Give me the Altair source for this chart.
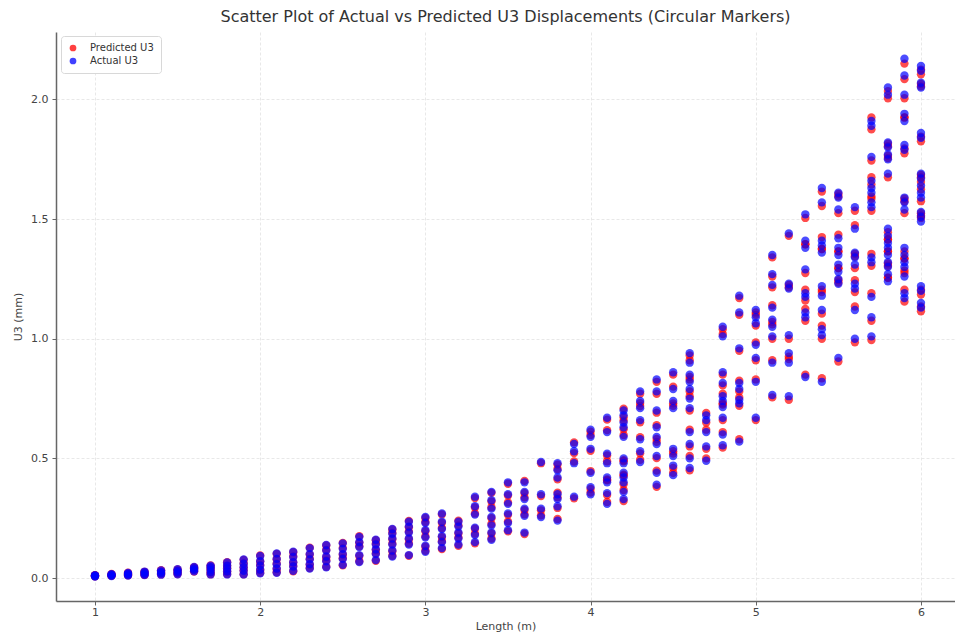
import altair as alt
import pandas as pd

TITLE = "Scatter Plot of Actual vs Predicted U3 Displacements (Circular Markers)"
X_LABEL = "Length (m)"
Y_LABEL = "U3 (mm)"
SERIES = ["Predicted U3", "Actual U3"]
COLORS = ["#ff0000", "#0000ff"]
X_TICKS = [1, 2, 3, 4, 5, 6]
Y_TICKS = [0.0, 0.5, 1.0, 1.5, 2.0]

LENGTHS = [1.0, 1.1, 1.2, 1.3, 1.4, 1.5, 1.6, 1.7, 1.8, 1.9,
           2.0, 2.1, 2.2, 2.3, 2.4, 2.5, 2.6, 2.7, 2.8, 2.9,
           3.0, 3.1, 3.2, 3.3, 3.4, 3.5, 3.6, 3.7, 3.8, 3.9,
           4.0, 4.1, 4.2, 4.3, 4.4, 4.5, 4.6, 4.7, 4.8, 4.9,
           5.0, 5.1, 5.2, 5.3, 5.4, 5.5, 5.6, 5.7, 5.8, 5.9, 6.0]

ACTUAL_U3 = [
    [0.006, 0.008, 0.010, 0.012],
    [0.008, 0.011, 0.014, 0.016],
    [0.010, 0.014, 0.018, 0.021],
    [0.012, 0.017, 0.022, 0.027],
    [0.014, 0.020, 0.026, 0.032],
    [0.016, 0.023, 0.030, 0.037],
    [0.028, 0.034, 0.040, 0.046],
    [0.015, 0.025, 0.035, 0.045, 0.052],
    [0.015, 0.028, 0.040, 0.052, 0.065],
    [0.015, 0.030, 0.045, 0.060, 0.078],
    [0.020, 0.035, 0.052, 0.070, 0.092],
    [0.022, 0.040, 0.058, 0.080, 0.103],
    [0.030, 0.048, 0.066, 0.088, 0.110],
    [0.040, 0.058, 0.078, 0.100, 0.125],
    [0.045, 0.070, 0.090, 0.115, 0.138],
    [0.055, 0.080, 0.100, 0.122, 0.145],
    [0.067, 0.095, 0.130, 0.150, 0.172],
    [0.075, 0.100, 0.120, 0.140, 0.160],
    [0.090, 0.115, 0.140, 0.165, 0.185, 0.205],
    [0.096, 0.140, 0.165, 0.190, 0.215, 0.235],
    [0.110, 0.135, 0.170, 0.200, 0.230, 0.255],
    [0.125, 0.150, 0.175, 0.205, 0.235, 0.270],
    [0.140, 0.165, 0.190, 0.215, 0.235],
    [0.150, 0.180, 0.210, 0.265, 0.300, 0.340],
    [0.160, 0.190, 0.220, 0.255, 0.290, 0.325, 0.360],
    [0.200, 0.230, 0.270, 0.310, 0.350, 0.400],
    [0.190, 0.260, 0.290, 0.330, 0.360, 0.400],
    [0.255, 0.290, 0.350, 0.485],
    [0.240, 0.300, 0.330, 0.350, 0.420, 0.450, 0.480],
    [0.340, 0.480, 0.530, 0.560],
    [0.350, 0.380, 0.440, 0.540, 0.590, 0.620],
    [0.310, 0.355, 0.400, 0.420, 0.480, 0.520, 0.610, 0.670],
    [0.330, 0.360, 0.400, 0.420, 0.440, 0.480, 0.500, 0.590, 0.630, 0.650, 0.680, 0.700],
    [0.485, 0.530, 0.580, 0.660, 0.710, 0.740, 0.780],
    [0.390, 0.440, 0.510, 0.560, 0.590, 0.630, 0.700, 0.780, 0.830],
    [0.430, 0.470, 0.510, 0.540, 0.710, 0.740, 0.790, 0.860],
    [0.460, 0.500, 0.560, 0.610, 0.710, 0.750, 0.790, 0.820, 0.850, 0.900, 0.940],
    [0.490, 0.550, 0.610, 0.660, 0.680],
    [0.555, 0.600, 0.670, 0.715, 0.740, 0.760, 0.815, 0.860, 1.010, 1.050],
    [0.570, 0.730, 0.745, 0.790, 0.815, 0.960, 1.110, 1.180],
    [0.670, 0.820, 0.920, 0.975, 1.065, 1.090, 1.120],
    [0.765, 0.900, 1.010, 1.050, 1.080, 1.130, 1.225, 1.270, 1.350],
    [0.760, 0.900, 0.940, 1.015, 1.210, 1.230, 1.440],
    [0.840, 1.090, 1.110, 1.175, 1.190, 1.290, 1.380, 1.410, 1.520],
    [0.820, 1.015, 1.040, 1.120, 1.180, 1.220, 1.360, 1.390, 1.410, 1.570, 1.630],
    [0.920, 1.230, 1.250, 1.280, 1.310, 1.350, 1.380, 1.420, 1.540, 1.590, 1.610],
    [1.000, 1.120, 1.210, 1.230, 1.310, 1.340, 1.360, 1.460, 1.550],
    [1.010, 1.090, 1.175, 1.320, 1.340, 1.550, 1.570, 1.610, 1.630, 1.660, 1.760, 1.890, 1.910],
    [1.240, 1.270, 1.300, 1.320, 1.350, 1.380, 1.400, 1.430, 1.460, 1.690, 1.750, 1.770, 1.800, 1.820, 2.020, 2.050],
    [1.170, 1.190, 1.260, 1.300, 1.320, 1.350, 1.380, 1.540, 1.570, 1.590, 1.790, 1.810, 1.910, 1.940, 2.020, 2.100, 2.170],
    [1.130, 1.150, 1.200, 1.220, 1.490, 1.510, 1.530, 1.590, 1.610, 1.640, 1.670, 1.690, 1.840, 1.860, 2.050, 2.070, 2.120, 2.140],
]

PREDICTED_U3 = [
    [0.007, 0.008, 0.011, 0.012],
    [0.009, 0.011, 0.013, 0.017],
    [0.011, 0.015, 0.017, 0.022],
    [0.013, 0.016, 0.023, 0.026],
    [0.015, 0.021, 0.025, 0.033],
    [0.017, 0.022, 0.031, 0.036],
    [0.027, 0.035, 0.041, 0.045],
    [0.016, 0.024, 0.036, 0.044, 0.053],
    [0.017, 0.027, 0.041, 0.051, 0.066],
    [0.016, 0.032, 0.044, 0.061, 0.076],
    [0.022, 0.034, 0.054, 0.069, 0.094],
    [0.024, 0.038, 0.060, 0.079, 0.101],
    [0.028, 0.050, 0.065, 0.090, 0.108],
    [0.042, 0.056, 0.080, 0.098, 0.127],
    [0.047, 0.073, 0.087, 0.117, 0.136],
    [0.053, 0.083, 0.098, 0.125, 0.147],
    [0.070, 0.092, 0.133, 0.148, 0.175],
    [0.072, 0.103, 0.117, 0.143, 0.158],
    [0.093, 0.112, 0.143, 0.162, 0.188, 0.203],
    [0.093, 0.144, 0.162, 0.194, 0.212, 0.239],
    [0.114, 0.131, 0.174, 0.196, 0.234, 0.251],
    [0.121, 0.154, 0.171, 0.209, 0.231, 0.266],
    [0.135, 0.169, 0.186, 0.220, 0.240],
    [0.145, 0.185, 0.206, 0.270, 0.295, 0.334],
    [0.165, 0.186, 0.226, 0.250, 0.296, 0.320, 0.356],
    [0.195, 0.236, 0.264, 0.316, 0.345, 0.394],
    [0.184, 0.266, 0.284, 0.337, 0.355, 0.406],
    [0.262, 0.283, 0.343, 0.480],
    [0.247, 0.293, 0.337, 0.357, 0.413, 0.456, 0.474],
    [0.333, 0.487, 0.522, 0.567],
    [0.357, 0.372, 0.447, 0.532, 0.598, 0.612],
    [0.318, 0.347, 0.408, 0.412, 0.488, 0.512, 0.618, 0.662],
    [0.322, 0.368, 0.392, 0.428, 0.432, 0.488, 0.492, 0.598, 0.622, 0.658, 0.672, 0.708],
    [0.494, 0.521, 0.589, 0.651, 0.719, 0.731, 0.770],
    [0.381, 0.449, 0.501, 0.569, 0.581, 0.639, 0.691, 0.770, 0.820],
    [0.440, 0.460, 0.520, 0.530, 0.720, 0.730, 0.800, 0.850],
    [0.450, 0.510, 0.550, 0.620, 0.700, 0.760, 0.780, 0.830, 0.840, 0.910, 0.930],
    [0.500, 0.540, 0.620, 0.650, 0.690],
    [0.545, 0.610, 0.660, 0.725, 0.730, 0.770, 0.805, 0.850, 1.020, 1.040],
    [0.580, 0.720, 0.755, 0.780, 0.825, 0.950, 1.100, 1.170],
    [0.660, 0.830, 0.910, 0.985, 1.055, 1.100, 1.110],
    [0.755, 0.910, 1.000, 1.060, 1.070, 1.140, 1.215, 1.260, 1.340],
    [0.745, 0.915, 0.925, 1.000, 1.225, 1.215, 1.430],
    [0.850, 1.075, 1.125, 1.160, 1.205, 1.275, 1.395, 1.395, 1.505],
    [0.835, 1.000, 1.055, 1.105, 1.195, 1.205, 1.375, 1.375, 1.425, 1.555, 1.615],
    [0.905, 1.245, 1.235, 1.295, 1.295, 1.365, 1.365, 1.435, 1.525, 1.605, 1.595],
    [0.985, 1.135, 1.195, 1.245, 1.295, 1.355, 1.345, 1.475, 1.535],
    [0.995, 1.075, 1.190, 1.305, 1.355, 1.535, 1.585, 1.595, 1.645, 1.675, 1.745, 1.875, 1.925],
    [1.255, 1.255, 1.315, 1.305, 1.365, 1.365, 1.415, 1.415, 1.445, 1.675, 1.765, 1.755, 1.815, 1.805, 2.005, 2.035],
    [1.155, 1.205, 1.275, 1.285, 1.335, 1.335, 1.365, 1.525, 1.585, 1.575, 1.775, 1.795, 1.925, 1.925, 2.005, 2.085, 2.150],
    [1.115, 1.135, 1.185, 1.205, 1.505, 1.525, 1.515, 1.575, 1.625, 1.655, 1.685, 1.675, 1.825, 1.845, 2.065, 2.055, 2.105, 2.125],
]

rows = []
for series, table in ((SERIES[0], PREDICTED_U3), (SERIES[1], ACTUAL_U3)):
    for length, values in zip(LENGTHS, table):
        for v in values:
            rows.append({"Length": length, "U3": v, "Series": series})
df = pd.DataFrame(rows)

FONT = "DejaVu Sans"

chart = (
    alt.Chart(df)
    .mark_circle(size=70, opacity=0.7)
    .encode(
        x=alt.X(
            "Length:Q",
            scale=alt.Scale(domain=[0.764, 6.206], nice=False, zero=False),
            axis=alt.Axis(title=X_LABEL, values=X_TICKS, format="d"),
        ),
        y=alt.Y(
            "U3:Q",
            scale=alt.Scale(domain=[-0.096, 2.282], nice=False, zero=False),
            axis=alt.Axis(title=Y_LABEL, values=Y_TICKS, format=".1f"),
        ),
        color=alt.Color(
            "Series:N",
            scale=alt.Scale(domain=SERIES, range=COLORS),
            legend=alt.Legend(
                title=None,
                orient="none",
                legendX=5,
                legendY=4,
                fillColor="white",
                strokeColor="#d8d8d8",
                cornerRadius=3,
                padding=7,
                labelFont=FONT,
                labelFontSize=10,
                labelColor="#333333",
                symbolType="circle",
                symbolSize=45,
                symbolOpacity=0.75,
                symbolStrokeWidth=0,
                rowPadding=3,
                labelOffset=12,
            ),
        ),
    )
    .properties(
        width=899,
        height=569,
        title=alt.TitleParams(
            TITLE, font=FONT, fontSize=16, fontWeight="normal",
            color="#333333", anchor="middle", offset=7,
        ),
        autosize=alt.AutoSizeParams(type="none"),
        padding={"left": 48, "top": 24, "right": 0, "bottom": 32},
    )
    .configure_view(stroke=None)
    .configure_axis(
        labelFont=FONT,
        titleFont=FONT,
        labelFontSize=11,
        titleFontSize=11,
        labelColor="#444444",
        titleColor="#444444",
        titleFontWeight="normal",
        domainColor="#666666",
        domainWidth=1.5,
        tickColor="#666666",
        tickSize=4,
        gridColor="#e2e2e2",
        gridDash=[3, 2],
        gridWidth=0.8,
    )
    .configure_axisX(labelPadding=1, titlePadding=3, labelAngle=0)
    .configure_axisY(labelPadding=4, titlePadding=7)
)

chart.save("out.html", embed_options={"renderer": "svg", "actions": False})
